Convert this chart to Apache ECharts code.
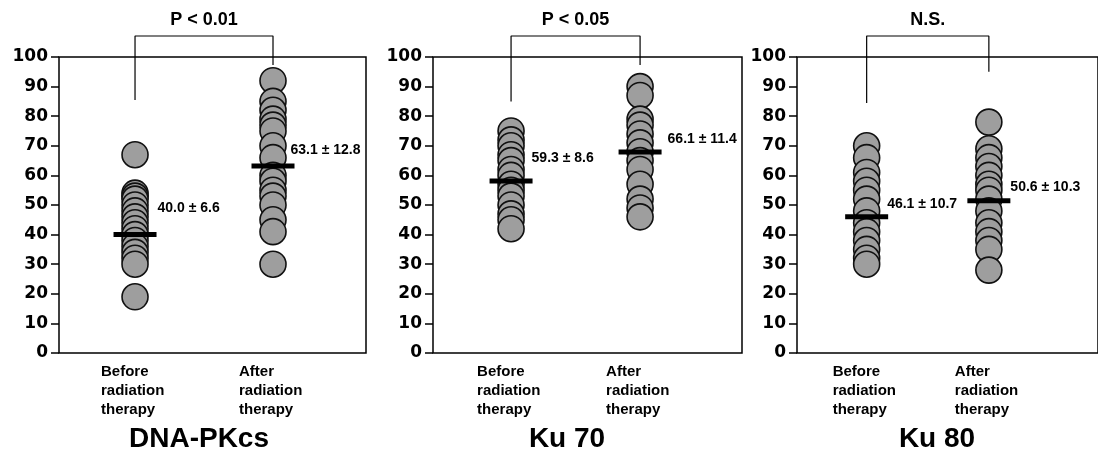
<!DOCTYPE html>
<html>
<head>
<meta charset="utf-8">
<script src="https://cdn.jsdelivr.net/npm/echarts@6/dist/echarts.min.js"></script>
<style>
  html, body { margin: 0; padding: 0; background: #fff; }
  #chart { width: 1098px; height: 455px; }
</style>
</head>
<body>
<div id="chart"></div>
<script>
  // groups on the x axis (before = 1, after = 2)
  var groups = ['Before\nradiation\ntherapy', 'After\nradiation\ntherapy'];
  var panelTitles = ['DNA-PKcs', 'Ku 70', 'Ku 80'];
  var pLabels = ['P < 0.01', 'P < 0.05', 'N.S.'];

  // values
  var dnapkBefore = [67, 54, 53, 52, 50, 48, 46, 44, 42, 40, 38, 36, 34, 32, 30, 19];
  var dnapkAfter = [92, 85, 82, 79, 77, 75, 70, 66, 60, 58, 55, 53, 50, 45, 41, 30];
  var ku70Before = [75, 72, 70, 67, 65, 62, 60, 57, 55, 53, 50, 47, 45, 42];
  var ku70After = [90, 87, 79, 77, 74, 71, 68, 65, 62, 57, 52, 49, 46];
  var ku80Before = [70, 66, 61, 58, 55, 52, 48, 44, 41, 38, 35, 32, 30];
  var ku80After = [78, 69, 66, 63, 60, 57, 55, 52, 48, 44, 41, 38, 35, 28];

  // mean bars as drawn, and their texts
  var meanBefore = [40.0, 58.1, 46.0];
  var meanAfter = [63.2, 67.9, 51.4];
  var meanBeforeText = ['40.0 ± 6.6', '59.3 ± 8.6', '46.1 ± 10.7'];
  var meanAfterText = ['63.1 ± 12.8', '66.1 ± 11.4', '50.6 ± 10.3'];

  // bracket ends (y values)
  var bracketTop = [107.1, 107.1, 107.1];
  var bracketLeft = [85.5, 85, 84.5];
  var bracketRight = [97.3, 97.3, 95];

  var yTicks = [0, 100, 10]; // min, max, interval

  var beforeSets = [dnapkBefore, ku70Before, ku80Before];
  var afterSets = [dnapkAfter, ku70After, ku80After];

  // layout of the three panels
  var grids = [
    {left: 59, top: 57, width: 307, height: 296},
    {left: 433, top: 57, width: 309, height: 296},
    {left: 797, top: 57, width: 330, height: 296}
  ];
  var xRanges = [[0.449, 2.674], [0.395, 2.79], [0.43, 2.893]];
  var titleX = [199, 567, 937];
  var beforeLabelOff = [[1, -26], [-1, -23], [-1, -13]];
  var afterLabelOff = [[-4, -16], [6, -13], [0, -14]];

  var myChart = echarts.init(document.getElementById('chart'));

  var boldSans = 'Liberation Sans, Arial, sans-serif';
  var dotColor = '#9e9e9e';

  var option = {
    animation: false,
    title: [],
    grid: [],
    xAxis: [],
    yAxis: [],
    series: []
  };

  for (var i = 0; i < 3; i++) {
    option.grid.push({
      left: grids[i].left, top: grids[i].top, width: grids[i].width, height: grids[i].height,
      show: true, borderColor: '#000', borderWidth: 1.5, containLabel: false
    });
    option.title.push({
      text: panelTitles[i],
      left: titleX[i], top: 425, textAlign: 'center', padding: 0,
      textStyle: {fontFamily: boldSans, fontWeight: 'bold', fontSize: 28, color: '#000'}
    });
    option.xAxis.push({
      type: 'value', gridIndex: i,
      min: xRanges[i][0], max: xRanges[i][1],
      axisLine: {show: false},
      axisTick: {show: false},
      splitLine: {show: false},
      axisLabel: {
        customValues: [1, 2],
        margin: 9,
        formatter: function (v) {
          var lines = groups[Math.round(v) - 1].split('\n');
          return lines.map(function (s) { return '{a|' + s + '}'; }).join('\n');
        },
        rich: {
          a: {
            width: 68, align: 'left', lineHeight: 19,
            fontFamily: boldSans, fontWeight: 'bold', fontSize: 15, color: '#000'
          }
        }
      }
    });
    option.yAxis.push({
      type: 'value', gridIndex: i,
      min: yTicks[0], max: yTicks[1], interval: yTicks[2],
      axisLine: {show: false},
      axisTick: {show: true, length: 8, lineStyle: {color: '#000', width: 1.5}},
      splitLine: {show: false},
      axisLabel: {
        margin: 11,
        fontFamily: 'DejaVu Sans', fontWeight: 'bold', fontSize: 17, color: '#000'
      }
    });

    // circles
    var pts = [];
    beforeSets[i].forEach(function (v) { pts.push([1, v]); });
    afterSets[i].forEach(function (v) { pts.push([2, v]); });
    option.series.push({
      type: 'scatter', xAxisIndex: i, yAxisIndex: i,
      symbol: 'circle', symbolSize: 26, z: 2,
      itemStyle: {color: dotColor, borderColor: '#111', borderWidth: 1.6, opacity: 1},
      data: pts
    });

    // mean bars with their text
    option.series.push({
      type: 'scatter', xAxisIndex: i, yAxisIndex: i,
      symbol: 'rect', symbolSize: [43, 5], z: 4,
      itemStyle: {color: '#000', opacity: 1},
      label: {
        show: true, position: 'right', distance: 0,
        fontFamily: boldSans, fontWeight: 'bold', fontSize: 14, color: '#000',
        textBorderWidth: 0
      },
      data: [
        {value: [1, meanBefore[i]], label: {formatter: meanBeforeText[i], offset: beforeLabelOff[i]}},
        {value: [2, meanAfter[i]], label: {formatter: meanAfterText[i], offset: afterLabelOff[i]}}
      ]
    });

    // significance bracket
    option.series.push({
      type: 'line', xAxisIndex: i, yAxisIndex: i,
      clip: false, symbol: 'none', z: 1,
      lineStyle: {color: '#000', width: 1.2},
      data: [[1, bracketLeft[i]], [1, bracketTop[i]], [2, bracketTop[i]], [2, bracketRight[i]]]
    });

    // p label
    option.series.push({
      type: 'scatter', xAxisIndex: i, yAxisIndex: i,
      clip: false, symbolSize: 1, z: 5,
      itemStyle: {color: 'rgba(0,0,0,0)', opacity: 1},
      label: {
        show: true, position: 'inside', formatter: pLabels[i],
        fontFamily: boldSans, fontWeight: 'bold', fontSize: 18, color: '#000',
        textBorderWidth: 0
      },
      data: [[1.5, 112.5]]
    });
  }

  myChart.setOption(option);
</script>
</body>
</html>
